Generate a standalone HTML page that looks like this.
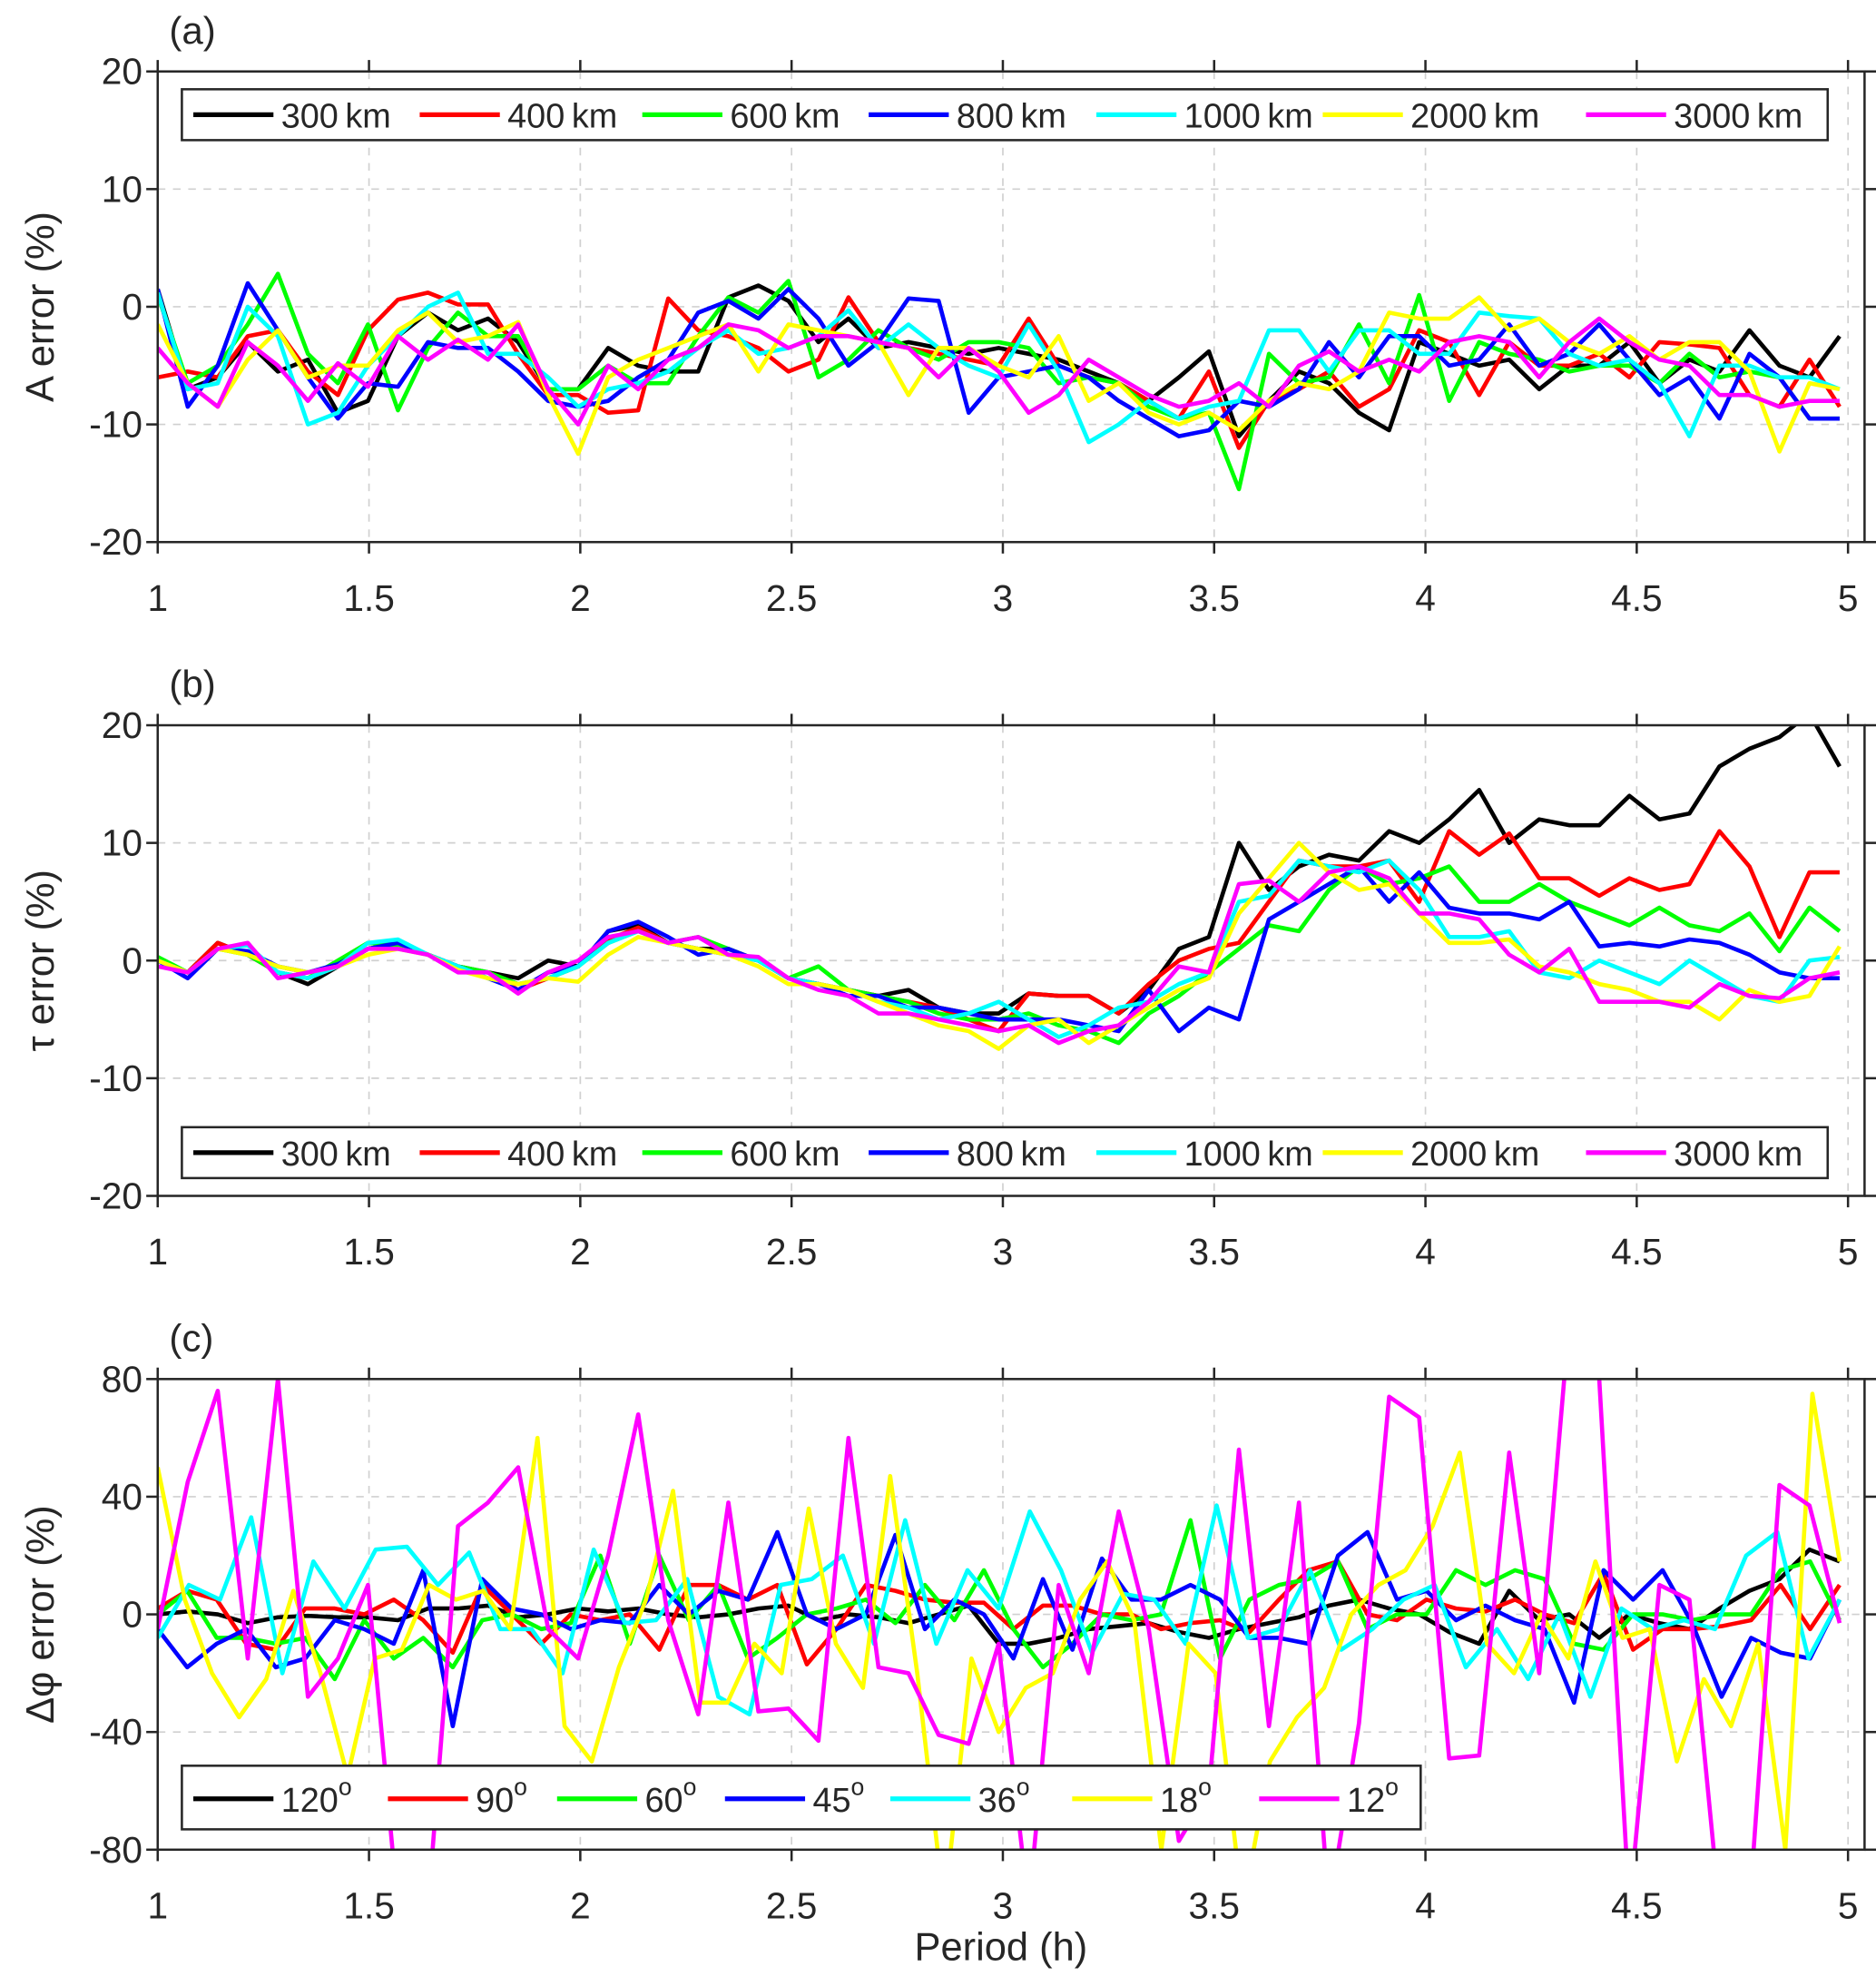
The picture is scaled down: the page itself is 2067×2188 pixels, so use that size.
<!DOCTYPE html>
<html><head><meta charset="utf-8"><style>
html,body{margin:0;padding:0;background:#fff}
svg{display:block}
text{font-family:"Liberation Sans",Arial,sans-serif;fill:#262626}
</style></head><body>
<svg id="fig" width="2067" height="2188" viewBox="0 0 1475 1561" xmlns="http://www.w3.org/2000/svg"></svg>
<script>
const xTicks=[1,1.5,2,2.5,3,3.5,4,4.5,5];
const xTickLabels=["1","1.5","2","2.5","3","3.5","4","4.5","5"];
const abTicks=[20,10,0,-10,-20];
const cTicks=[80,40,0,-40,-80];
const colors=["#000000","#ff0000","#00ff00","#0000ff","#00ffff","#ffff00","#ff00ff"];
const kmLabels=["300","400","600","800","1000","2000","3000"];
const degLabels=["120","90","60","45","36","18","12"];
const xStart=1, xEnd=4.98;

const a300=[1.5,-7,-6,-3,-5.5,-4.5,-9,-8,-2.5,-0.5,-2,-1,-3,-7,-7,-3.5,-5,-5.5,-5.5,0.8,1.8,0.5,-3,-1,-3.5,-3,-3.5,-4,-3.5,-4,-4.5,-5.5,-6.5,-8,-6,-3.8,-11,-8,-5.5,-6.5,-9,-10.5,-3,-4,-5,-4.5,-7,-5,-5,-3,-6.5,-4.5,-5.5,-2,-5,-6,-2.5];
const a400=[-6,-5.5,-6,-2.5,-2,-5.5,-7.5,-2,0.6,1.2,0.2,0.2,-4,-7.5,-7.5,-9,-8.8,0.7,-2,-2.5,-3.5,-5.5,-4.5,0.8,-3,-3.5,-4,-4.5,-5,-1,-5,-6,-6.5,-8,-9.5,-5.5,-12,-8,-7,-5.5,-8.5,-7,-2,-3,-7.5,-3,-5,-5,-4,-6,-3,-3.2,-3.5,-7.5,-8.5,-4.5,-8.5];
const a600=[1,-6.5,-5,-1.5,2.8,-4,-6.5,-1.5,-8.8,-3.5,-0.5,-2.5,-2.5,-7,-7,-5,-6.5,-6.5,-2.5,0.8,-0.5,2.2,-6,-4.5,-2,-3.5,-4.5,-3,-3,-3.5,-6.5,-6,-6.5,-8.5,-9.5,-9,-15.5,-4,-6.5,-6,-1.5,-6.5,1,-8,-3,-4,-4.5,-5.5,-5,-5,-6.5,-4,-6,-5.5,-6,-9.5,-9.5];
const a800=[1.5,-8.5,-5,2,-2,-6,-9.5,-6.5,-6.8,-3,-3.5,-3.5,-5.5,-8,-8.5,-8,-6,-4.5,-0.5,0.5,-1,1.5,-1,-5,-3,0.7,0.5,-9,-6,-5.5,-5,-6,-8,-9.5,-11,-10.5,-8,-8.5,-7,-3,-6,-2.5,-2.5,-5,-4.5,-1.5,-5,-4,-1.5,-4.5,-7.5,-6,-9.5,-4,-6,-9.5,-9.5];
const a1000=[1.2,-7,-6.5,0,-2.5,-10,-9,-5,-2.5,0,1.2,-4,-4,-6,-8.5,-7,-6.5,-5.5,-3.5,-2,-4,-3.5,-2.5,-0.3,-3.5,-1.5,-3.5,-5,-6,-1.5,-5.5,-11.5,-10,-8,-9.5,-8.5,-8,-2,-2,-5.5,-2,-2,-4,-4,-0.5,-0.8,-1,-4,-5,-4.5,-6.5,-11,-5,-5,-6,-6,-7];
const a2000=[-1.5,-6.5,-8.5,-4.5,-2,-6,-5,-5,-2,-0.5,-3,-2.5,-1.3,-7.5,-12.5,-6,-4.5,-3.5,-2.5,-1.5,-5.5,-1.5,-2,-2.5,-3,-7.5,-3.5,-3.5,-5,-6,-2.5,-8,-6.5,-9,-10,-9,-10.5,-8,-6.5,-7,-5.5,-0.5,-1,-1,0.8,-2,-1,-3,-4,-2.5,-4.5,-3,-3,-5.5,-12.3,-6.5,-7];
const a3000=[-3.5,-6.5,-8.5,-3,-5,-8,-4.8,-6.8,-2.5,-4.5,-2.8,-4.5,-1.5,-7,-10,-5,-7,-4.5,-3.5,-1.5,-2,-3.5,-2.5,-2.5,-3,-3.5,-6,-3.5,-5.5,-9,-7.5,-4.5,-6,-7.5,-8.5,-8,-6.5,-8.5,-5,-3.8,-5.5,-4.5,-5.5,-3,-2.5,-3,-6,-3,-1,-3,-4.5,-5,-7.5,-7.5,-8.5,-8,-8];

const b300=[0,-1,1.5,0.5,-1,-2,-0.5,1,1.5,0.5,-0.5,-1,-1.5,0,-0.5,2.5,3,1.5,1,1,0,-1.5,-2,-2.5,-3,-2.5,-4,-4.5,-4.5,-2.8,-3,-3,-4.5,-2.5,1,2,10,6,8,9,8.5,11,10,12,14.5,10,12,11.5,11.5,14,12,12.5,16.5,18,19,21,16.5];
const b400=[0,-1,1.5,0.5,-1,-1.5,-0.5,1,1.3,0.5,-0.8,-1,-2.5,-1.5,-0.5,1.8,2.8,1.5,1,0.5,0,-1.5,-2,-2.5,-3,-3.5,-4,-5,-6,-2.8,-3,-3,-4.5,-2,0,1,1.5,5,8.5,8,8,8.5,5,11,9,10.8,7,7,5.5,7,6,6.5,11,8,2,7.5,7.5];
const b600=[0.3,-1,1,0.5,-1,-1.5,0,1.5,1.3,0.5,-0.5,-1,-2,-1.5,-0.5,1.5,2.5,1.5,2,1,0,-1.5,-0.5,-2.5,-3,-3.5,-4.5,-5,-5,-4.5,-5.5,-6,-7,-4.5,-3,-1,1,3,2.5,6,8,6.5,7,8,5,5,6.5,5,4,3,4.5,3,2.5,4,0.8,4.5,2.5];
const b800=[0,-1.5,1,0.8,-0.5,-1,-0.3,1,1.5,0.5,-0.5,-1.5,-2.5,-1,-0.5,2.5,3.3,2,0.5,1,0,-1.5,-2,-3,-3,-4,-4,-4.5,-5,-5,-5,-5.5,-6,-2.5,-6,-4,-5,3.5,5,6.5,8,5,7.5,4.5,4,4,3.5,5,1.2,1.5,1.2,1.8,1.5,0.5,-1,-1.5,-1.5];
const b1000=[0,-1,1,1.3,-1,-1.5,-0.5,1.5,1.8,0.5,-0.5,-1.5,-2,-1.5,-0.5,1.5,2.5,1.5,1,0.5,0,-1.5,-2,-2.5,-3.5,-4,-5,-4.5,-3.5,-5,-6.5,-5.5,-4,-3.5,-2,-1,5,5.5,8.5,8,7.5,8.5,6,2,2,2.5,-1,-1.5,0,-1,-2,0,-1.5,-3,-3.5,0,0.3];
const b2000=[0,-1,1,0.5,-0.5,-1,-0.5,0.5,1,0.5,-0.8,-1.5,-2,-1.5,-1.8,0.5,2,1.5,1,0.5,-0.5,-2,-2,-2.5,-3.5,-4.5,-5.5,-6,-7.5,-5.5,-5,-7,-5.5,-4,-2.5,-1.5,4,7,10,7.5,6,6.5,4,1.5,1.5,1.8,-0.5,-1,-2,-2.5,-3.5,-3.5,-5,-2.5,-3.5,-3,1.2];
const b3000=[-0.5,-1,1,1.5,-1.5,-1,-0.5,1,1,0.5,-1,-1,-2.8,-1,0,2,2.5,1.5,2,0.5,0.3,-1.5,-2.5,-3,-4.5,-4.5,-5,-5.5,-6,-5.5,-7,-6,-5.5,-3.5,-0.5,-1,6.5,6.8,5,7.5,8,7,4,4,3.5,0.5,-1,1,-3.5,-3.5,-3.5,-4,-2,-3,-3.2,-1.5,-1];

const c120=[0,1,0,-3,-1,-0.5,-1,-1,-2,2,2,3,-1,0,2,1,2,0,-1,0,2,3,-2,0,-1,-3,0,3,-10,-10,-8,-5,-4,-3,-6,-8,-5,-3,-1,3,5,2,0,-6,-10,8,-2,0,-8,0,-3,-5,2,8,12,22,18];
const c90=[2,8,5,-10,-12,2,2,0,5,-2,-13,10,0,-10,0,-2,0,-12,10,10,5,10,-17,-5,10,8,5,4,4,-5,3,3,0,0,-5,-3,-2,-6,5,15,18,0,-2,5,2,1,5,0,-3,14,-12,-5,-5,-4,-2,10,-5,10];
const c60=[0,8,-8,-8,-10,-8,-22,-2,-15,-8,-18,-2,0,-5,-3,20,-10,20,-2,10,-15,-8,0,2,5,-3,10,-2,15,-5,-18,-10,0,-2,0,32,-15,5,10,12,18,-5,0,0,15,10,15,12,-10,-12,0,0,-2,0,0,15,18,-2];
const c45=[-5,-18,-10,-5,-18,-15,-2,-5,-10,15,-38,12,2,0,-5,-2,-3,10,0,8,5,28,0,-5,0,27,-5,5,0,-15,12,-12,19,5,5,10,5,-8,-8,-10,20,28,5,8,-2,3,-2,-5,-30,15,5,15,-3,-28,-8,-13,-15,5];
const c36=[-8,10,5,33,-20,18,2,22,23,10,21,-5,-5,-20,22,-3,-2,12,-28,-34,10,12,20,-10,32,-10,15,2,35,15,-13,7,5,-10,37,-8,-5,15,-12,-5,5,10,-18,-5,-22,0,-28,2,-5,-2,-5,20,28,-15,5];
const c18=[50,5,-20,-35,-22,8,-20,-55,-15,-12,10,5,8,-5,60,-38,-50,-18,5,42,-30,-30,-10,-20,36,-10,-25,47,-20,-100,-15,-40,-25,-20,5,18,-2,-80,-10,-20,-100,-50,-35,-25,0,10,15,30,55,-10,-20,0,-15,18,-8,-5,-50,-22,-38,-10,-80,75,18];
const c12=[-5,45,76,-15,80,-28,-15,10,-100,-100,30,38,50,-5,-15,20,68,-2,-34,38,-33,-32,-43,60,-18,-20,-41,-44,-10,-100,10,-20,35,-5,-77,-60,56,-38,38,-100,-37,74,67,-49,-48,55,-20,100,80,-100,10,5,-100,-100,44,37,-3];

const NS="http://www.w3.org/2000/svg";
const svg=document.getElementById('fig');
function mk(tag,attrs,parent){const e=document.createElementNS(NS,tag);for(const k in attrs)e.setAttribute(k,attrs[k]);(parent||svg).appendChild(e);return e;}
const X0=124,X1=1466;
function xs(v){return 124+(v-1)*332.25;}

const panels=[
 {id:"a",top:56,bot:426,ymin:-20,ymax:20,ticks:abTicks,series:[a300,a400,a600,a800,a1000,a2000,a3000],labels:kmLabels,unit:" km",title:"A error (%)",legendY:70,legendW:1294},
 {id:"b",top:570,bot:940,ymin:-20,ymax:20,ticks:abTicks,series:[b300,b400,b600,b800,b1000,b2000,b3000],labels:kmLabels,unit:" km",title:"τ error (%)",legendY:886,legendW:1294},
 {id:"c",top:1084,bot:1454,ymin:-80,ymax:80,ticks:cTicks,series:[c120,c90,c60,c45,c36,c18,c12],labels:degLabels,unit:"deg",title:"Δφ error (%)",legendY:1388,legendW:974}
];

panels.forEach(p=>{
 const g=mk('g',{});
 
 
 const ys=v=>p.bot-(v-p.ymin)/(p.ymax-p.ymin)*(p.bot-p.top);
 xTicks.forEach(t=>{const l=mk('line',{x1:xs(t),x2:xs(t),y1:p.top,y2:p.bot,stroke:'#d0d0d0','stroke-width':1.2,'stroke-dasharray':'6,6'},g);
  });
 p.ticks.forEach(t=>{const l=mk('line',{x1:X0,x2:X1,y1:ys(t),y2:ys(t),stroke:'#d0d0d0','stroke-width':1.2,'stroke-dasharray':'6,6'},g);
  });
 const cp=mk('clipPath',{id:'clip'+p.id},g);mk('rect',{x:X0,y:p.top,width:X1-X0,height:p.bot-p.top},cp);
 const sg=mk('g',{'clip-path':'url(#clip'+p.id+')'},g);
 p.series.forEach((arr,si)=>{
  const n=arr.length;
  const pts=arr.map((v,i)=>xs(xStart+i*(xEnd-xStart)/(n-1)).toFixed(1)+','+ys(v).toFixed(1)).join(' ');
  const pl=mk('polyline',{points:pts,fill:'none',stroke:colors[si],'stroke-width':3.3,'stroke-linejoin':'round'},sg);
  
  
 });
 const bx=mk('rect',{x:X0,y:p.top,width:X1-X0,height:p.bot-p.top,fill:'none',stroke:'#262626','stroke-width':1.8},g);
 
 xTicks.forEach((t,i)=>{
  mk('line',{x1:xs(t),x2:xs(t),y1:p.bot,y2:p.bot+9,stroke:'#262626','stroke-width':1.8},g);
  mk('line',{x1:xs(t),x2:xs(t),y1:p.top,y2:p.top-9,stroke:'#262626','stroke-width':1.8},g);
  const tx=mk('text',{x:xs(t),y:p.bot+54,'text-anchor':'middle','font-size':29},g);tx.textContent=xTickLabels[i];
  
 });
 p.ticks.forEach(t=>{
  mk('line',{x1:X0-9,x2:X0,y1:ys(t),y2:ys(t),stroke:'#262626','stroke-width':1.8},g);
  mk('line',{x1:X1,x2:X1+9,y1:ys(t),y2:ys(t),stroke:'#262626','stroke-width':1.8},g);
  const tx=mk('text',{x:X0-12,y:ys(t)+10,'text-anchor':'end','font-size':29},g);tx.textContent=String(t);
  
 });
 const pl=mk('text',{x:133,y:p.top-22,'font-size':30},g);pl.textContent='('+p.id+')';
 
 const yc=(p.top+p.bot)/2;
 const yt=mk('text',{x:42,y:yc,'text-anchor':'middle','font-size':31,transform:'rotate(-90 42 '+yc+')'},g);
 yt.textContent=p.title;
 
 const lg=mk('g',{},g);
 
 const lh=p.unit==='deg'?50:40;
 mk('rect',{x:143,y:p.legendY,width:p.legendW,height:lh,fill:'#fff',stroke:'#262626','stroke-width':1.8},lg);
 const ly=p.legendY+lh/2+(p.unit==='deg'?1:0);
 const starts=p.unit==='deg'?[152,305,438,570,700,843,990]:[152,330,505,683,862,1040,1247];
 p.labels.forEach((lab,i)=>{
  const e=mk('g',{},lg);
  
  mk('line',{x1:starts[i],x2:starts[i]+63,y1:ly,y2:ly,stroke:colors[i],'stroke-width':3.8},e);
  const t=mk('text',{x:starts[i]+69,y:ly+10,'font-size':27},e);
  if(p.unit==='deg'){t.textContent=lab;const s=mk('tspan',{dy:-13,'font-size':19},t);s.textContent='o';}
  else{t.textContent=lab+'\u2009km';}
 });
});
const xt=mk('text',{x:787,y:1541,'text-anchor':'middle','font-size':31});
xt.textContent='Period (h)';


</script>
</body></html>
